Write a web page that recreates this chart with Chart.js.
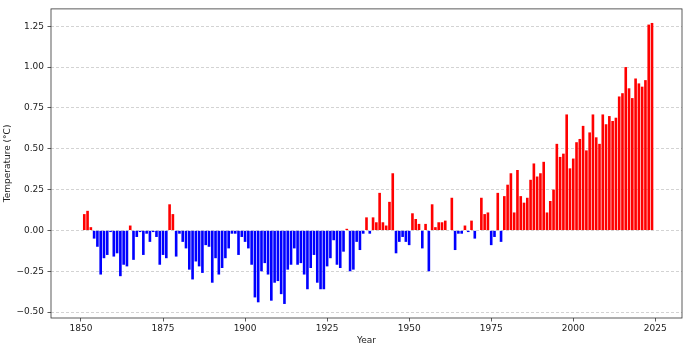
<!DOCTYPE html>
<html>
<head>
<meta charset="utf-8">
<script src="https://cdn.jsdelivr.net/npm/chart.js@4/dist/chart.umd.min.js"></script>
<style>
  html, body { margin: 0; padding: 0; background: #fff; }
  #wrap { width: 685px; height: 347px; }
</style>
</head>
<body>
<div id="wrap"><canvas id="tempChart" width="685" height="347"></canvas></div>
<script>
// yearly anomaly values (°C), starting at startYear
const startYear = 1850;
const anomalies = [
  0.00, 0.10, 0.12, 0.02, -0.05, -0.10, -0.27, -0.17, -0.15, -0.01,
  -0.16, -0.14, -0.28, -0.21, -0.22, 0.03, -0.18, -0.04, -0.01, -0.15,
  -0.02, -0.07, -0.01, -0.04, -0.21, -0.15, -0.17, 0.16, 0.10, -0.16,
  -0.02, -0.07, -0.11, -0.24, -0.30, -0.19, -0.22, -0.26, -0.09, -0.10,
  -0.32, -0.17, -0.27, -0.23, -0.17, -0.11, -0.02, -0.02, -0.15, -0.04,
  -0.07, -0.11, -0.21, -0.41, -0.44, -0.25, -0.20, -0.27, -0.43, -0.32,
  -0.31, -0.39, -0.45, -0.24, -0.21, -0.11, -0.21, -0.20, -0.27, -0.36,
  -0.23, -0.15, -0.32, -0.36, -0.36, -0.22, -0.17, -0.06, -0.21, -0.23,
  -0.13, 0.01, -0.25, -0.24, -0.07, -0.12, -0.02, 0.08, -0.02, 0.08,
  0.05, 0.23, 0.05, 0.03, 0.175, 0.35, -0.14, -0.07, -0.04, -0.07,
  -0.09, 0.105, 0.07, 0.04, -0.11, 0.04, -0.25, 0.16, 0.02, 0.05,
  0.05, 0.06, 0.00, 0.20, -0.12, -0.02, -0.02, 0.03, -0.01, 0.06,
  -0.05, 0.00, 0.20, 0.10, 0.11, -0.09, -0.04, 0.23, -0.07, 0.21,
  0.28, 0.35, 0.11, 0.37, 0.21, 0.17, 0.20, 0.31, 0.41, 0.33,
  0.35, 0.42, 0.11, 0.18, 0.25, 0.53, 0.45, 0.47, 0.71, 0.38,
  0.44, 0.54, 0.56, 0.64, 0.49, 0.60, 0.71, 0.57, 0.53, 0.71,
  0.65, 0.70, 0.67, 0.69, 0.82, 0.84, 1.00, 0.87, 0.81, 0.93,
  0.90, 0.88, 0.92, 1.26, 1.27
];
const years = anomalies.map((_, i) => startYear + i);
const xTicks = [1850, 1875, 1900, 1925, 1950, 1975, 2000, 2025];
const yTicks = [-0.5, -0.25, 0, 0.25, 0.5, 0.75, 1.0, 1.25];

const ctx = document.getElementById("tempChart");
const font = { family: "'DejaVu Sans', sans-serif", size: 9 };

// matplotlib style box round the plot
const frame = {
  id: "frame",
  afterDraw(chart) {
    const a = chart.chartArea;
    const c = chart.ctx;
    c.save();
    c.strokeStyle = "#333";
    c.lineWidth = 0.8;
    c.strokeRect(a.left, a.top, a.right - a.left, a.bottom - a.top);
    c.restore();
  }
};

// add 5% margin like matplotlib does
const yMin = Math.min(...anomalies), yMax = Math.max(...anomalies);
const yPad = (yMax - yMin) * 0.05;
const xLo = years[0] - 0.4, xHi = years[years.length - 1] + 0.4;
const xPad = (xHi - xLo) * 0.05;

new Chart(ctx, {
  type: "bar",
  data: {
    datasets: [{
      data: years.map((y, i) => ({ x: y, y: anomalies[i] })),
      backgroundColor: anomalies.map(v => v >= 0 ? "#ff0000" : "#0000ff"),
      borderWidth: 0,
      barPercentage: 0.8,
      categoryPercentage: 1.0
    }]
  },
  options: {
    responsive: false,
    animation: false,
    devicePixelRatio: 1,
    layout: { padding: { top: 5, right: 3, left: 0, bottom: 0 } },
    plugins: { legend: { display: false }, tooltip: { enabled: false } },
    scales: {
      x: {
        type: "linear",
        offset: false,
        min: xLo - xPad,
        max: xHi + xPad,
        afterBuildTicks: s => { s.ticks = xTicks.map(v => ({ value: v })); },
        afterFit: s => { s.height = 29; },
        border: { display: false },
        grid: { offset: false, drawOnChartArea: false, tickLength: 3.5, tickColor: "#333", tickWidth: 0.8 },
        ticks: { color: "#222", font, padding: 1.5, maxRotation: 0, callback: v => String(v) },
        title: { display: true, text: "Year", color: "#222", font, padding: { top: 0, bottom: 1 } }
      },
      y: {
        min: yMin - yPad,
        max: yMax + yPad,
        afterBuildTicks: s => { s.ticks = yTicks.map(v => ({ value: v })); },
        afterFit: s => { s.width = 51; },
        border: { display: false, dash: [3, 2] },
        grid: {
          color: "rgba(176,176,176,0.7)",
          lineWidth: 0.8,
          tickLength: 3.5,
          tickColor: "#333",
          tickWidth: 0.8,
          tickBorderDash: []
        },
        ticks: {
          color: "#222", font, padding: 3.5,
          callback: v => (v < 0 ? "\u2212" : "") + Math.abs(v).toFixed(2)
        },
        title: { display: true, text: "Temperature (°C)", color: "#222", font, padding: { top: 2, bottom: 0 } }
      }
    }
  },
  plugins: [frame]
});
</script>
</body>
</html>
